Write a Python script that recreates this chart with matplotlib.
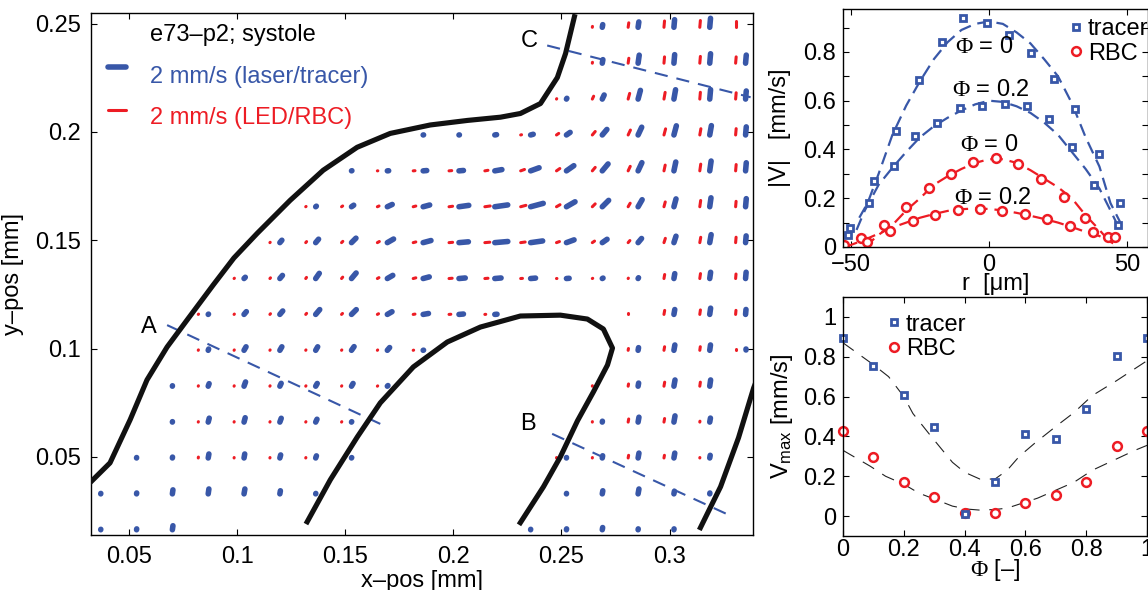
import numpy as np
import matplotlib
matplotlib.use("Agg")
import matplotlib.pyplot as plt
from matplotlib.collections import LineCollection

plt.rcParams['font.family'] = ['Liberation Sans', 'DejaVu Sans']
plt.rcParams['mathtext.fontset'] = 'custom'
plt.rcParams['mathtext.rm'] = 'Liberation Serif'
plt.rcParams['mathtext.sf'] = 'Liberation Sans'
plt.rcParams['mathtext.it'] = 'Liberation Serif:italic'
plt.rcParams['lines.scale_dashes'] = False

BLUE = '#3857a8'
RED = '#ed1c24'
FS = 17

_ = np.nan

# ---------------- main panel: vector field data ----------------
grid_x0 = 0.0369      # mm, first column (tracer grid)
grid_dx = 0.01657
grid_y_top = 0.2483   # mm, top row
grid_dy = 0.01657
red_shift = -0.0046   # LED/RBC grid x offset
vec_scale = 0.00417   # mm of arrow per mm/s

# |v| of tracer (laser) vectors, mm/s ; rows top -> bottom
blue_speed = [
    [_]*14 + [0.3, 0.6, 0.85, 1.0, 0.05],
    [_]*13 + [0.05, 0.4, 0.9, 0.95, 1.05, 0.9],
    [_]*13 + [0.1, 0.5, 1.0, 1.05, 1.05, 0.9],
    [_]*9 + [0.05, 0.05, 0.2, 0.3, 0.5, 0.8, 0.95, 1.05, 1.05, 0.9],
    [_]*7 + [0.05, 0.15, 0.4, 0.5, 0.8, 1.0, 1.0, 1.0, 1.0, 1.0, 1.1, 0.9],
    [_]*6 + [0.1, 0.3, 0.6, 0.75, 1.1, 1.45, 1.45, 1.1, 1.0, 0.9, 0.9, 1.0, 0.9],
    [_]*5 + [0.35, 0.5, 0.7, 0.8, 0.9, 1.05, 1.45, 1.35, 0.9, 0.65, 0.6, 0.75, 0.9, 0.75],
    [_]*4 + [0.2, 0.45, 0.7, 0.8, 0.7, 0.7, 0.7, 0.7, 0.55, 0.3, 0.1, 0.1, 0.55, 0.7, 0.7],
    [_]*3 + [0.05, 0.4, 0.5, 0.7, 0.75, 0.6, 0.6, 0.5, 0.25, 0.05, _, _, 0.05, 0.55, 0.7, 0.55],
    [_]*3 + [0.15, 0.45, 0.45, 0.45, 0.5, 0.4, 0.05] + [_]*5 + [0.3, 0.6, 0.6, 0.1],
    [_, _, 0.05, 0.3, 0.5, 0.35, 0.35, 0.35, 0.1] + [_]*6 + [0.35, 0.7, 0.7, 0.05],
    [_, _, 0.05, 0.45, 0.5, 0.45, 0.35, 0.05] + [_]*6 + [0.1, 0.55, 0.7, 0.45, _],
    [_, 0.05, 0.1, 0.45, 0.45, 0.35, 0.25, 0.05] + [_]*5 + [0.05, 0.25, 0.55, 0.55, 0.3, _],
    [0.05, 0.1, 0.45, 0.55, 0.55, 0.35, 0.05] + [_]*6 + [0.05, 0.35, 0.55, 0.3, 0.1, _],
    [0.05, 0.1, 0.45] + [_]*9 + [0.05, 0.1, 0.25, 0.1, 0.1, _, _],
]

# |v| of RBC (LED) vectors, mm/s
red_speed = [
    [_]*14 + [0.1, 0.5, 0.7, 0.75, 0.7],
    [_]*14 + [0.1, 0.55, 0.7, 0.75, 0.7],
    [_]*13 + [0.05, 0.35, 0.65, 0.75, 0.75, 0.7],
    [_]*12 + [0.1, 0.3, 0.5, 0.6, 0.7, 0.7, 0.7],
    [_]*8 + [0.05, 0.2, 0.3, 0.35, 0.45, 0.45, 0.5, 0.55, 0.65, 0.75, 0.7],
    [_]*6 + [0.05, 0.15, 0.2, 0.3, 0.4, 0.6, 0.6, 0.45, 0.45, 0.45, 0.55, 0.7, 0.6],
    [_]*5 + [0.05, 0.15, 0.2, 0.25, 0.3, 0.4, 0.55, 0.5, 0.35, 0.3, 0.3, 0.5, 0.6, 0.6],
    [_]*4 + [0.05, 0.1, 0.15, 0.2, 0.2, 0.3, 0.35, 0.35, 0.2, 0.05, 0.05, 0.05, 0.45, 0.55, 0.5],
    [_]*3 + [0.05, 0.05, 0.1, 0.15, 0.15, 0.15, 0.2, 0.2, 0.1, _, _, 0.05, 0.15, 0.45, 0.5, 0.45],
    [_]*3 + [0.05]*7 + [_]*5 + [0.2, 0.4, 0.4, 0.1],
    [_]*3 + [0.05]*6 + [_]*5 + [0.05, 0.25, 0.45, 0.45, 0.05],
    [_]*3 + [0.05]*5 + [_]*6 + [0.05, 0.35, 0.4, 0.1, _],
    [_]*3 + [0.1, 0.05, 0.05, 0.05] + [_]*6 + [0.05, 0.05, 0.3, 0.3, 0.05, _],
    [_]*19,
    [_]*19,
]

# flow direction, degrees from +x
flow_angle = [
    [_]*14 + [80, 82, 85, 85, 90],
    [_]*13 + [90, 80, 82, 85, 85, 85],
    [_]*13 + [60, 65, 75, 80, 85, 85],
    [_]*9 + [10, 10, 10, 15, 35, 50, 65, 75, 80, 85],
    [_]*7 + [20, 5, 5, 5, 10, 20, 35, 50, 65, 78, 82, 85],
    [_]*6 + [40, 35, 25, 15, 8, 8, 15, 30, 45, 60, 75, 82, 85],
    [_]*5 + [50, 50, 45, 30, 15, 5, 5, 8, 20, 35, 50, 72, 80, 85],
    [_]*4 + [45, 50, 55, 50, 30, 15, 5, 5, 5, 5, 30, 60, 80, 82, 85],
    [_]*3 + [45, 50, 50, 50, 45, 30, 10, 5, 5, 0, _, 90, 90, 80, 82, 85],
    [_]*3 + [70, 60, 60, 60, 55, 50, 20] + [_]*5 + [80, 80, 82, 90],
    [_, _, 80, 70, 70, 65, 60, 60, 45] + [_]*5 + [80, 80, 80, 82, 90],
    [_, _, 80, 75, 75, 70, 65, 60] + [_]*6 + [80, 80, 80, 80, _],
    [_, 80, 80, 80, 80, 75, 70, 60] + [_]*5 + [80, 80, 80, 80, 80, _],
    [80, 80, 82, 82, 80, 80, 70] + [_]*6 + [80, 80, 80, 80, 80, _],
    [80, 80, 82] + [_]*9 + [80, 80, 80, 80, 80, _, _],
]

# vessel walls (mm)
wall_outer_x = [0.0324, 0.0412, 0.0505, 0.0583, 0.0676, 0.0768, 0.0889, 0.0985, 0.1093,
                0.1245, 0.1398, 0.1555, 0.1708, 0.1893, 0.2065, 0.2218, 0.2310, 0.2403,
                0.2481, 0.2519, 0.2560]
wall_outer_y = [0.0385, 0.0472, 0.0671, 0.0855, 0.1007, 0.1131, 0.1293, 0.1418, 0.1532,
                0.1684, 0.1823, 0.1929, 0.1993, 0.2032, 0.2053, 0.2068, 0.2085, 0.2131,
                0.2251, 0.2362, 0.2532]
wall_inner_x = [0.1324, 0.1431, 0.1556, 0.1662, 0.1815, 0.1972, 0.2125, 0.2310, 0.2495,
                0.2620, 0.2694, 0.2736, 0.2713, 0.2648, 0.2574, 0.2495, 0.2417, 0.2310]
wall_inner_y = [0.0200, 0.0394, 0.0592, 0.0749, 0.0915, 0.1030, 0.1099, 0.1150, 0.1154,
                0.1136, 0.1090, 0.1002, 0.0924, 0.0800, 0.0666, 0.0500, 0.0362, 0.0196]
wall_right_x = [0.3143, 0.3236, 0.3319, 0.3389, 0.3421]
wall_right_y = [0.0173, 0.0362, 0.0588, 0.0818, 0.0900]

# cross-section lines A, B, C
sections = {
    'A': ([0.0676, 0.1662], [0.1108, 0.0652], (0.0593, 0.1099)),
    'B': ([0.2457, 0.3295], [0.0606, 0.0222], (0.2347, 0.0652)),
    'C': ([0.2434, 0.3375], [0.2399, 0.2160], (0.2349, 0.2418)),
}

main_xticks = [0.05, 0.1, 0.15, 0.2, 0.25, 0.3]
main_xticklabels = ['0.05', '0.1', '0.15', '0.2', '0.25', '0.3']
main_yticks = [0.05, 0.1, 0.15, 0.2, 0.25]
main_yticklabels = ['0.05', '0.1', '0.15', '0.2', '0.25']

# ---------------- top right: velocity profiles ----------------
tr_phi0_r = [-50.2, -41.7, -33.6, -25.5, -17.2, -9.3, -0.8, 7.2, 15.3, 23.5, 31.3, 39.8, 47.6]
tr_phi0_v = [0.078, 0.27, 0.475, 0.685, 0.84, 0.938, 0.92, 0.87, 0.795, 0.69, 0.564, 0.38, 0.18]
tr_phi2_r = [-51.2, -43.3, -34.6, -26.9, -18.7, -10.5, -2.5, 5.8, 13.9, 21.8, 29.9, 38.0, 46.6]
tr_phi2_v = [0.048, 0.18, 0.333, 0.457, 0.51, 0.568, 0.58, 0.586, 0.578, 0.523, 0.41, 0.256, 0.092]
rbc_phi0_r = [-52.4, -46.4, -38.2, -30.2, -21.9, -13.9, -5.8, 2.4, 10.6, 18.9, 27.0, 34.9, 43.1]
rbc_phi0_v = [0.007, 0.038, 0.092, 0.162, 0.242, 0.30, 0.347, 0.363, 0.341, 0.278, 0.207, 0.12, 0.041]
rbc_phi2_r = [-44.2, -35.8, -27.7, -19.6, -11.4, -3.3, 4.6, 12.9, 21.1, 29.3, 37.6, 45.8]
rbc_phi2_v = [0.02, 0.066, 0.105, 0.132, 0.151, 0.155, 0.148, 0.137, 0.114, 0.086, 0.062, 0.041]

fit_tr0_r = [-47, -44, -40, -35, -30, -25, -20, -15, -10, -5, 0, 5, 10, 15, 20, 25, 30, 35, 40, 44, 47.6]
fit_tr0_v = [0.12, 0.18, 0.30, 0.46, 0.58, 0.68, 0.77, 0.84, 0.89, 0.915, 0.925, 0.915, 0.88,
             0.835, 0.77, 0.70, 0.59, 0.45, 0.33, 0.18, 0.10]
fit_tr2_r = [-48, -45, -40, -35, -30, -25, -20, -15, -10, -5, 0, 5, 10, 15, 20, 25, 30, 35, 40, 44, 47]
fit_tr2_v = [0.07, 0.15, 0.255, 0.325, 0.39, 0.45, 0.495, 0.53, 0.56, 0.585, 0.60, 0.595, 0.577,
             0.55, 0.51, 0.46, 0.39, 0.32, 0.24, 0.15, 0.08]
fit_rbc0_r = [-45, -40, -35, -30, -25, -20, -15, -10, -5, 0, 5, 10, 15, 20, 25, 30, 35, 40, 45]
fit_rbc0_v = [0.0, 0.05, 0.09, 0.15, 0.20, 0.255, 0.29, 0.32, 0.345, 0.36, 0.36, 0.345, 0.315,
              0.28, 0.245, 0.20, 0.13, 0.07, 0.005]
fit_rbc2_r = [-52, -45, -40, -35, -30, -25, -20, -15, -10, -5, 0, 5, 10, 15, 20, 25, 30, 35, 40, 45]
fit_rbc2_v = [0.0, 0.03, 0.055, 0.08, 0.1, 0.12, 0.135, 0.148, 0.155, 0.158, 0.156, 0.15, 0.14,
              0.128, 0.115, 0.1, 0.082, 0.062, 0.045, 0.015]

profile_labels = [('$\\Phi$ = 0', -1.8, 0.82), ('$\\Phi$ = 0.2', 0.7, 0.644),
                  ('$\\Phi$ = 0', 0.0, 0.418), ('$\\Phi$ = 0.2', 1.4, 0.20)]

# ---------------- bottom right: Vmax vs phase ----------------
phase = [0, 0.1, 0.2, 0.3, 0.4, 0.5, 0.6, 0.7, 0.8, 0.9, 1.0]
vmax_tracer = [0.896, 0.754, 0.607, 0.448, 0.008, 0.172, 0.411, 0.386, 0.537, 0.803, 0.896]
vmax_rbc = [0.426, 0.298, 0.172, 0.094, 0.013, 0.013, 0.064, 0.105, 0.169, 0.351, 0.426]
fit_vt_phase = [0, 0.1, 0.15, 0.2, 0.23, 0.29, 0.36, 0.40, 0.45, 0.5, 0.54, 0.58, 0.63, 0.70,
                0.76, 0.82, 0.9, 1.0]
fit_vt = [0.87, 0.76, 0.70, 0.60, 0.515, 0.40, 0.27, 0.22, 0.186, 0.186, 0.23, 0.30, 0.365,
          0.45, 0.52, 0.605, 0.68, 0.78]
fit_vr_phase = [0, 0.09, 0.14, 0.2, 0.25, 0.31, 0.36, 0.41, 0.45, 0.5, 0.54, 0.58, 0.64, 0.7,
                0.76, 0.82, 0.89, 0.96, 1.0]
fit_vr = [0.33, 0.25, 0.20, 0.16, 0.115, 0.08, 0.05, 0.035, 0.03, 0.033, 0.04, 0.06, 0.09, 0.13,
          0.17, 0.23, 0.28, 0.33, 0.355]

# ================= figure =================
W, H = 1148, 590
fig = plt.figure(figsize=(W / 100, H / 100), dpi=100)


def px_axes(l, t, r, b):
    return fig.add_axes([l / W, 1 - b / H, (r - l) / W, (b - t) / H])


def style(ax, xpad, ypad):
    for s in ax.spines.values():
        s.set_linewidth(1.0)
    ax.tick_params(which='both', direction='in', top=True, right=True, length=4.2,
                   width=0.8, labelsize=FS)
    ax.tick_params(axis='x', pad=xpad)
    ax.tick_params(axis='y', pad=ypad)


# ---- main panel ----
ax = px_axes(91, 13, 753, 535)
ax.set_xlim(0.0324, 0.3386)
ax.set_ylim(0.0139, 0.2549)
style(ax, 8, 7)
ax.set_xticks(main_xticks, main_xticklabels)
ax.set_yticks(main_yticks, main_yticklabels)
ax.set_xlabel('x–pos [mm]', fontsize=FS, labelpad=1)
ax.set_ylabel('y–pos [mm]', fontsize=FS, labelpad=8)

bs = np.array(blue_speed, float)
rs = np.array(red_speed, float)
ang = np.deg2rad(np.array(flow_angle, float))
rr, cc = np.indices(bs.shape)
gx = grid_x0 + cc * grid_dx
gy = grid_y_top - rr * grid_dy


def segments(sp, xoff):
    m = ~np.isnan(sp)
    x0 = gx[m] + xoff
    y0 = gy[m]
    x1 = x0 + sp[m] * vec_scale * np.cos(ang[m])
    y1 = y0 + sp[m] * vec_scale * np.sin(ang[m])
    return [[(a, b), (c, d)] for a, b, c, d in zip(x0, y0, x1, y1)]


ax.add_collection(LineCollection(segments(rs, red_shift), colors=RED, linewidths=2.2,
                                 capstyle='round', zorder=2))
ax.add_collection(LineCollection(segments(bs, 0.0), colors=BLUE, linewidths=4.0,
                                 capstyle='round', zorder=3))

for wx, wy in [(wall_outer_x, wall_outer_y), (wall_inner_x, wall_inner_y),
               (wall_right_x, wall_right_y)]:
    ax.plot(wx, wy, color='#111111', lw=3.7, solid_joinstyle='round', zorder=5)

for name, (sx, sy, (lx, ly)) in sections.items():
    ax.plot(sx, sy, color=BLUE, lw=1.5, dashes=(9.5, 6.5), zorder=4)
    ax.text(lx, ly, name, fontsize=FS, ha='center', va='center', zorder=6)

# legend of main panel
x0l, x1l = ax.get_xlim()
y0l, y1l = ax.get_ylim()
lx_start = x0l + 0.0257 * (x1l - x0l)
ax.plot([lx_start, lx_start + 2 * vec_scale], [y0l + 0.8966 * (y1l - y0l)] * 2, color=BLUE,
        lw=4.0, solid_capstyle='round')
ax.plot([lx_start, lx_start + 2 * vec_scale], [y0l + 0.8142 * (y1l - y0l)] * 2, color=RED,
        lw=2.2, solid_capstyle='round')
ax.text(0.0891, 0.9579, 'e73–p2; systole', transform=ax.transAxes, fontsize=FS,
        va='center', ha='left')
ax.text(0.0891, 0.8774, '2 mm/s (laser/tracer)', transform=ax.transAxes, fontsize=FS,
        va='center', ha='left', color=BLUE)
ax.text(0.0891, 0.7989, '2 mm/s (LED/RBC)', transform=ax.transAxes, fontsize=FS,
        va='center', ha='left', color=RED)

# ---- top right ----
a2 = px_axes(843, 9, 1148, 247)
a2.set_xlim(-52.9, 57.6)
a2.set_ylim(0, 0.976)
style(a2, 5, 5)
a2.set_xticks([-50, 0, 50], ['−50', '0', '50'])
a2.set_yticks([0, 0.2, 0.4, 0.6, 0.8], ['0', '0.2', '0.4', '0.6', '0.8'])
a2.set_yticks([0.1, 0.3, 0.5, 0.7, 0.9], minor=True)
a2.set_xlabel('r  [μm]', fontsize=FS, labelpad=-2)
a2.set_ylabel('|V|   [mm/s]', fontsize=FS, labelpad=9)

for fr, fv, col in [(fit_tr0_r, fit_tr0_v, BLUE), (fit_tr2_r, fit_tr2_v, BLUE),
                    (fit_rbc0_r, fit_rbc0_v, RED), (fit_rbc2_r, fit_rbc2_v, RED)]:
    a2.plot(fr, fv, color=col, lw=1.6, dashes=(9, 5), clip_on=True)
sq_kw = dict(ls='none', marker='s', ms=4.8, mew=2.0, mec=BLUE, mfc='white')
ci_kw = dict(ls='none', marker='o', ms=6.3, mew=1.8, mec=RED, mfc='white')
h_t = a2.plot(tr_phi0_r, tr_phi0_v, **sq_kw)[0]
a2.plot(tr_phi2_r, tr_phi2_v, **sq_kw)
h_r = a2.plot(rbc_phi0_r, rbc_phi0_v, **ci_kw)[0]
a2.plot(rbc_phi2_r, rbc_phi2_v, **ci_kw)
for txt, xx, yy in profile_labels:
    a2.text(xx, yy, txt, fontsize=FS, ha='center', va='center')
a2.legend([h_t, h_r], ['tracer', 'RBC'], loc='upper left', bbox_to_anchor=(0.69, 1.03),
          frameon=False, fontsize=FS, handlelength=0.5, handletextpad=0.25,
          labelspacing=0.1, borderpad=0.2)

# ---- bottom right ----
a3 = px_axes(843, 297, 1147, 536)
a3.set_xlim(0, 1)
a3.set_ylim(-0.1, 1.1)
style(a3, 2.5, 5)
a3.set_xticks([0, 0.2, 0.4, 0.6, 0.8, 1.0], ['0', '0.2', '0.4', '0.6', '0.8', '1'])
a3.set_yticks([0, 0.2, 0.4, 0.6, 0.8, 1.0], ['0', '0.2', '0.4', '0.6', '0.8', '1'])
a3.set_xlabel('$\\Phi$ [–]', fontsize=FS, labelpad=-3)
a3.set_ylabel('V$_\\mathsf{max}$ [mm/s]', fontsize=FS, labelpad=6)
a3.plot(fit_vt_phase, fit_vt, color='#222222', lw=0.8, dashes=(9.5, 7))
a3.plot(fit_vr_phase, fit_vr, color='#222222', lw=0.8, dashes=(9.5, 7))
h_r3 = a3.plot(phase, vmax_rbc, clip_on=False, **ci_kw)[0]
h_t3 = a3.plot(phase, vmax_tracer, clip_on=False, **sq_kw)[0]
a3.legend([h_t3, h_r3], ['tracer', 'RBC'], loc='upper left', bbox_to_anchor=(0.095, 1.0),
          frameon=False, fontsize=FS, handlelength=0.5, handletextpad=0.25,
          labelspacing=0.1, borderpad=0.2)

fig.savefig('out.png', dpi=100)
